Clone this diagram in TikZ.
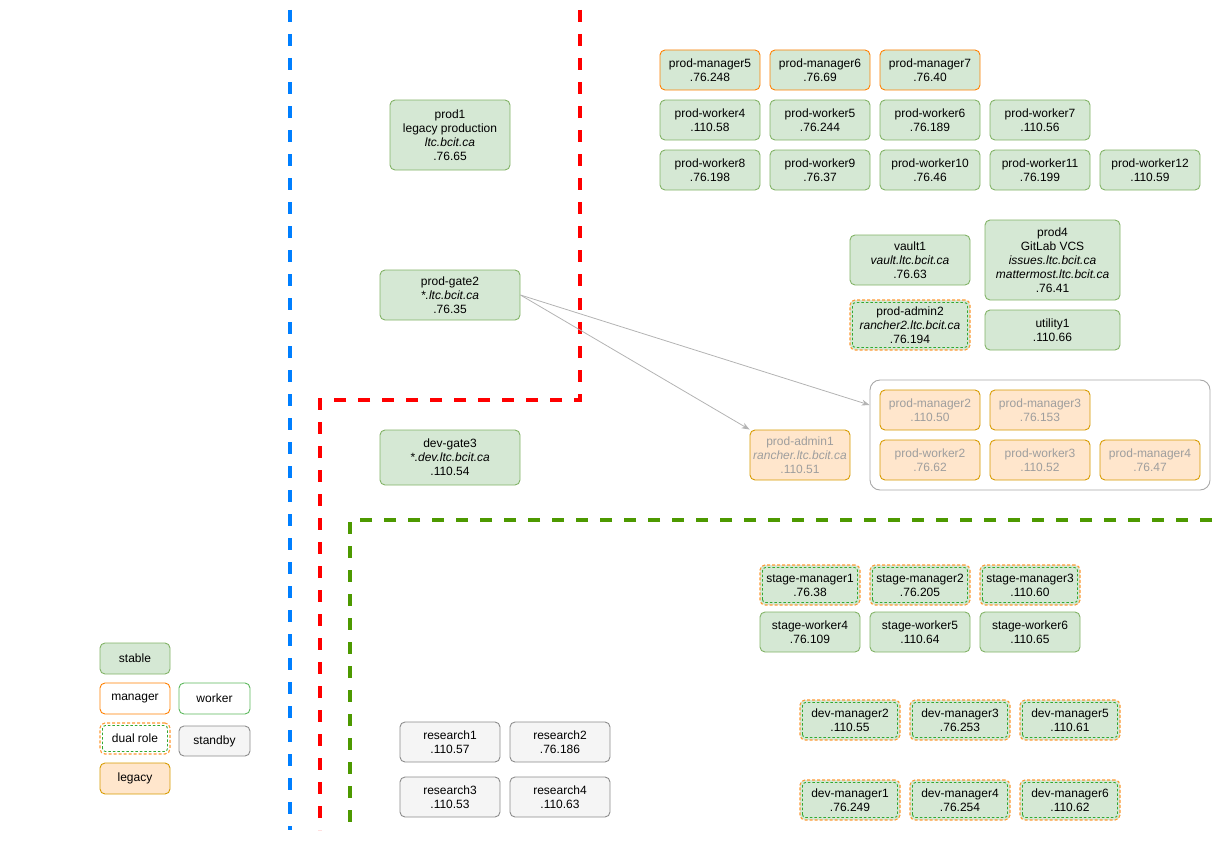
\documentclass[tikz,border=0pt]{standalone}
\usepackage{fontspec}
\setmainfont{Liberation Sans}
\usetikzlibrary{arrows.meta}

\definecolor{stfill}{HTML}{D5E8D4}
\definecolor{ststroke}{HTML}{82B366}
\definecolor{mgrstroke}{HTML}{FF8000}
\definecolor{wkstroke}{HTML}{5CB85C}
\definecolor{dualorange}{HTML}{FF9933}
\definecolor{dualgreen}{HTML}{33A833}
\definecolor{sbfill}{HTML}{F5F5F5}
\definecolor{sbstroke}{HTML}{8C8C8C}
\definecolor{lgfill}{HTML}{FFE6CC}
\definecolor{lgstroke}{HTML}{D79B00}
\definecolor{lgtext}{HTML}{9E9E9E}
\definecolor{grpstroke}{HTML}{A8A8A8}
\definecolor{connc}{HTML}{B3B3B3}
\definecolor{blueline}{HTML}{007FFF}
\definecolor{redline}{HTML}{FF0000}
\definecolor{greenline}{HTML}{4D9900}

\begin{document}
\begin{tikzpicture}[x=1pt,y=-1pt,
  base/.style={rounded corners=5pt, align=center, inner sep=0pt, line width=0.9pt,
    font=\fontsize{12}{14}\selectfont},
  sz/.style 2 args={minimum width=#1pt, minimum height=#2pt},
  stable/.style={base, fill=stfill, draw=ststroke},
  manager/.style={base, fill=white, draw=mgrstroke},
  stablemgr/.style={base, fill=stfill, draw=mgrstroke},
  worker/.style={base, fill=white, draw=wkstroke},
  standby/.style={base, fill=sbfill, draw=sbstroke},
  legacy/.style={base, fill=lgfill, draw=lgstroke},
  legacyold/.style={legacy, text=lgtext},
  dual/.style={base, draw=dualorange, line width=1.1pt, dash pattern=on 3pt off 2pt,
    path picture={\draw[dualgreen, line width=0.9pt, dash pattern=on 2.5pt off 2pt, rounded corners=3pt]
      ([shift={(2.5pt,2.5pt)}]path picture bounding box.south west) rectangle
      ([shift={(-2.5pt,-2.5pt)}]path picture bounding box.north east);}},
  dualstable/.style={dual, fill=stfill},
  divider/.style={line width=3.5pt, dash pattern=on 12pt off 12pt},
  group/.style={draw=grpstroke, line width=0.9pt, rounded corners=10pt, fill=white, inner sep=0pt},
  conn/.style={draw=connc, line width=0.8pt, -{Stealth[length=8pt,width=6pt]}}
]
\useasboundingbox (0,0) rectangle (1214,843);

% zone dividers
\coordinate (b1) at (290,10);  \coordinate (b2) at (290,830);
\coordinate (r1) at (580,10);  \coordinate (r2) at (580,400);
\coordinate (r3) at (320,400); \coordinate (r4) at (320,830);
\coordinate (g1) at (1212,520); \coordinate (g2) at (350,520);
\coordinate (g3) at (350,830);
\draw[divider, blueline] (b1) -- (b2);
\draw[divider, redline] (r1) -- (r2) -- (r3) -- (r4);
\draw[divider, greenline] (g1) -- (g2) -- (g3);

% legend
\node[stable, sz={70}{31}] (lstable) at (135,658.5) {stable};
\node[manager, sz={70}{31}] (lmanager) at (135,698.5) {manager};
\node[worker, sz={71}{31}] (lworker) at (214.5,698.5) {worker};
\node[dual, fill=white, sz={70}{31}] (ldual) at (135,738.5) {dual role};
\node[standby, sz={71}{30}] (lstandby) at (214.5,741) {standby};
\node[legacy, sz={70}{31}] (llegacy) at (135,778.5) {legacy};

% production gateways
\node[stable, sz={120}{70}] (prod1) at (450,135) {prod1\\legacy production\\\textit{ltc.bcit.ca}\\.76.65};
\node[stable, sz={140}{50}] (gate2) at (450,295) {prod-gate2\\\textit{*.ltc.bcit.ca}\\.76.35};
\node[stable, sz={140}{55}] (gate3) at (450,457.5) {dev-gate3\\\textit{*.dev.ltc.bcit.ca}\\.110.54};

% production cluster
\node[stablemgr, sz={100}{40}] (pm5) at (710,70) {prod-manager5\\.76.248};
\node[stablemgr, sz={100}{40}] (pm6) at (820,70) {prod-manager6\\.76.69};
\node[stablemgr, sz={100}{40}] (pm7) at (930,70) {prod-manager7\\.76.40};
\node[stable, sz={100}{40}] (pw4) at (710,120) {prod-worker4\\.110.58};
\node[stable, sz={100}{40}] (pw5) at (820,120) {prod-worker5\\.76.244};
\node[stable, sz={100}{40}] (pw6) at (930,120) {prod-worker6\\.76.189};
\node[stable, sz={100}{40}] (pw7) at (1040,120) {prod-worker7\\.110.56};
\node[stable, sz={100}{40}] (pw8) at (710,170) {prod-worker8\\.76.198};
\node[stable, sz={100}{40}] (pw9) at (820,170) {prod-worker9\\.76.37};
\node[stable, sz={100}{40}] (pw10) at (930,170) {prod-worker10\\.76.46};
\node[stable, sz={100}{40}] (pw11) at (1040,170) {prod-worker11\\.76.199};
\node[stable, sz={100}{40}] (pw12) at (1150,170) {prod-worker12\\.110.59};

% production services
\node[stable, sz={120}{50}] (vault1) at (910,260) {vault1\\\textit{vault.ltc.bcit.ca}\\.76.63};
\node[stable, sz={135}{80}] (prod4) at (1052.5,260) {prod4\\GitLab VCS\\\textit{issues.ltc.bcit.ca}\\\textit{mattermost.ltc.bcit.ca}\\.76.41};
\node[dualstable, sz={120}{50}] (admin2) at (910,325) {prod-admin2\\\textit{rancher2.ltc.bcit.ca}\\.76.194};
\node[stable, sz={135}{40}] (utility1) at (1052.5,330) {utility1\\.110.66};

% legacy cluster
\node[group, minimum width=340pt, minimum height=110pt] (grp) at (1040,435) {};
\node[legacyold, sz={100}{40}] (pm2) at (930,410) {prod-manager2\\.110.50};
\node[legacyold, sz={100}{40}] (pm3) at (1040,410) {prod-manager3\\.76.153};
\node[legacyold, sz={100}{40}] (pw2) at (930,460) {prod-worker2\\.76.62};
\node[legacyold, sz={100}{40}] (pw3) at (1040,460) {prod-worker3\\.110.52};
\node[legacyold, sz={100}{40}] (pm4) at (1150,460) {prod-manager4\\.76.47};
\node[legacyold, sz={100}{50}] (admin1) at (800,455) {prod-admin1\\\textit{rancher.ltc.bcit.ca}\\.110.51};

\draw[conn] (gate2.east) -- ([yshift=30pt]grp.west);
\draw[conn] (gate2.east) -- (admin1.north west);

% staging cluster
\node[dualstable, sz={100}{40}] (sm1) at (810,585) {stage-manager1\\.76.38};
\node[dualstable, sz={100}{40}] (sm2) at (920,585) {stage-manager2\\.76.205};
\node[dualstable, sz={100}{40}] (sm3) at (1030,585) {stage-manager3\\.110.60};
\node[stable, sz={100}{40}] (sw4) at (810,632) {stage-worker4\\.76.109};
\node[stable, sz={100}{40}] (sw5) at (920,632) {stage-worker5\\.110.64};
\node[stable, sz={100}{40}] (sw6) at (1030,632) {stage-worker6\\.110.65};

% development cluster
\node[dualstable, sz={100}{40}] (dm2) at (850,720) {dev-manager2\\.110.55};
\node[dualstable, sz={100}{40}] (dm3) at (960,720) {dev-manager3\\.76.253};
\node[dualstable, sz={100}{40}] (dm5) at (1070,720) {dev-manager5\\.110.61};
\node[dualstable, sz={100}{40}] (dm1) at (850,800) {dev-manager1\\.76.249};
\node[dualstable, sz={100}{40}] (dm4) at (960,800) {dev-manager4\\.76.254};
\node[dualstable, sz={100}{40}] (dm6) at (1070,800) {dev-manager6\\.110.62};

% research hosts
\node[standby, sz={100}{40}] (res1) at (450,742) {research1\\.110.57};
\node[standby, sz={100}{40}] (res2) at (560,742) {research2\\.76.186};
\node[standby, sz={100}{40}] (res3) at (450,797) {research3\\.110.53};
\node[standby, sz={100}{40}] (res4) at (560,797) {research4\\.110.63};
\end{tikzpicture}
\end{document}
